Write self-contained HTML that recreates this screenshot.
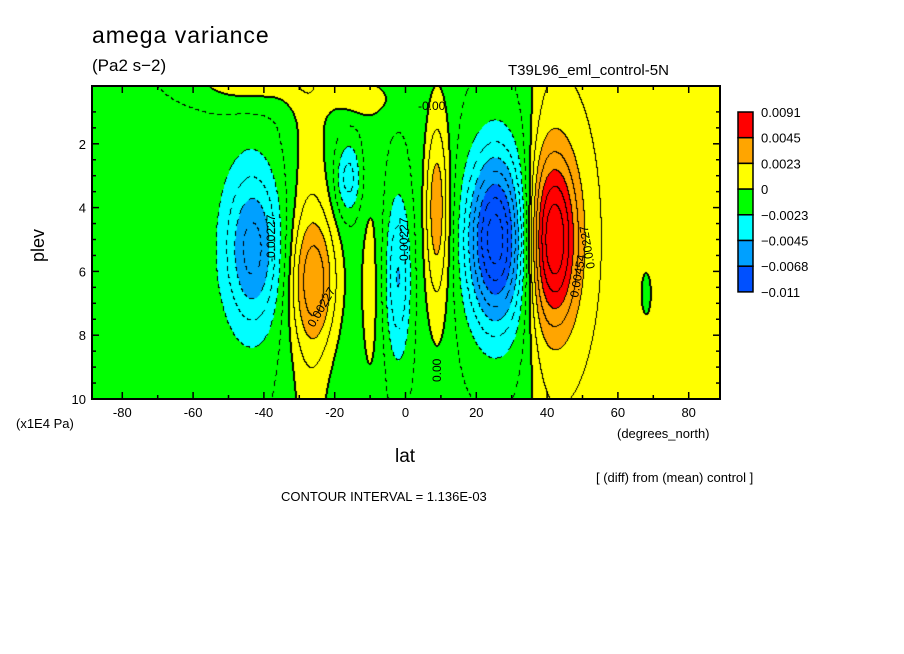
<!DOCTYPE html>
<html><head><meta charset="utf-8"><style>
body{margin:0;background:#fff;width:904px;height:654px;overflow:hidden;position:relative;font-family:"Liberation Sans",sans-serif}
.t{position:absolute;color:#000;white-space:nowrap}
</style></head><body>
<div class="t" style="left:92px;top:22px;font-size:23px;letter-spacing:1px">amega variance</div>
<div class="t" style="left:92px;top:56px;font-size:17px">(Pa2 s−2)</div>
<div class="t" style="left:508px;top:62px;font-size:15px">T39L96_eml_control-5N</div>
<div class="t" style="left:22px;top:235px;font-size:18px;transform:rotate(-90deg)">plev</div>
<div class="t" style="left:16px;top:416px;font-size:13px">(x1E4 Pa)</div>
<div class="t" style="left:617px;top:426px;font-size:13px">(degrees_north)</div>
<div class="t" style="left:395px;top:446px;font-size:19px">lat</div>
<div class="t" style="left:596px;top:470px;font-size:13px">[ (diff) from (mean) control ]</div>
<div class="t" style="left:281px;top:489px;font-size:13px">CONTOUR INTERVAL = 1.136E-03</div>
<canvas id="cv" width="628" height="313" style="position:absolute;left:92px;top:86px"></canvas>
<svg id="sv" width="904" height="654" style="position:absolute;left:0;top:0"></svg>
<script>
const blobLat=[-70,-43,-25.5,-27,-16,-10,-2,9,9,-12,25.5,42,-45,68];
const blobPlev=[4,5.3,6.3,5,3.1,6.5,6.2,4.0,4.5,0.6,5,5.0,0,6.7];
const blobAmp=[-0.6,-4.9,4.0,1.5,-3.0,1.4,-3.6,2.6,1.6,1.7,-8.8,7.0,2.0,-1.8];
const blobSigLat=[22,5.5,4.8,4.5,2.6,2.5,2.5,2.2,3.2,6,5.6,4.8,14,1.2];
const blobSigPlev=[8,1.75,1.5,20,0.8,3,1.8,1.8,3.5,0.4,1.9,1.9,0.6,0.6];
const xTicks=[-80,-60,-40,-20,0,20,40,60,80];
const yTicks=[2,4,6,8,10];
const cbLabels=["0.0091","0.0045","0.0023","0","−0.0023","−0.0045","−0.0068","−0.011"];
const cbColors=["#ff0000","#ffa500","#ffff00","#00ff00","#00ffff","#00a0ff","#0050ff"];
const CI=1.136;
function xOf(lat){return 405.5+lat*3.54;}
function yOf(p){return 399-(10-p)*31.9;}
function field(lat,p){
  let v=-1+2/(1+Math.exp(-(lat-36)/1.5));
  for(let i=0;i<blobLat.length;i++){
    const dx=(lat-blobLat[i])/blobSigLat[i],dy=(p-blobPlev[i])/blobSigPlev[i];
    v+=blobAmp[i]*Math.exp(-0.5*(dx*dx+dy*dy));
  }
  return v;
}
function fillIdx(v){
  if(v>4.54)return 0;if(v>2.27)return 1;if(v>0)return 2;if(v>-2.27)return 3;
  if(v>-4.54)return 4;if(v>-6.8)return 5;return 6;
}
const W=628,H=313,cv=document.getElementById('cv'),ctx=cv.getContext('2d');
const img=ctx.createImageData(W,H);
const vals=new Float32Array(W*H);
for(let j=0;j<H;j++)for(let i=0;i<W;i++){
  const lat=(92+i+0.5-405.5)/3.54,p=10-(399-(86+j+0.5))/31.9;
  vals[j*W+i]=field(lat,p);
}
function rgb(h){return [parseInt(h.substr(1,2),16),parseInt(h.substr(3,2),16),parseInt(h.substr(5,2),16)];}
const cols=cbColors.map(rgb);
for(let j=0;j<H;j++)for(let i=0;i<W;i++){
  const v=vals[j*W+i],k=Math.floor(v/CI);
  let c=cols[fillIdx(v)],line=false;
  const nb=[[1,0],[0,1],[-1,0],[0,-1]];
  for(const [a,b] of nb){const ii=i+a,jj=j+b;if(ii<0||jj<0||ii>=W||jj>=H)continue;
    const k2=Math.floor(vals[jj*W+ii]/CI);
    if(k2!==k){const lev=Math.max(k,k2)*CI;
      if(Math.abs(lev)<1e-6){line=true;}
      else if(a>=0&&b>=0){ if(lev>0||((i+j)%9)<5) line=true; }
    }}
  if(line)c=[0,0,0];
  const o=(j*W+i)*4;img.data[o]=c[0];img.data[o+1]=c[1];img.data[o+2]=c[2];img.data[o+3]=255;
}
ctx.putImageData(img,0,0);
const NS='http://www.w3.org/2000/svg',sv=document.getElementById('sv');
function el(t,a){const e=document.createElementNS(NS,t);for(const k in a)e.setAttribute(k,a[k]);sv.appendChild(e);return e;}
const fr=el('rect',{x:92,y:86,width:628,height:313,fill:'none',stroke:'#000','stroke-width':2});


for(let lat=-80;lat<=80;lat+=10){const x=xOf(lat);const L=lat%20===0?7:4;
  el('line',{x1:x,y1:399,x2:x,y2:399-L,stroke:'#000','stroke-width':1.5});
  el('line',{x1:x,y1:86,x2:x,y2:86+L,stroke:'#000','stroke-width':1.5});}
for(let p=1;p<=10;p+=0.5){const y=yOf(p);const L=p%2===0?7:4;
  el('line',{x1:92,y1:y,x2:92+L,y2:y,stroke:'#000','stroke-width':1.5});
  el('line',{x1:720,y1:y,x2:720-L,y2:y,stroke:'#000','stroke-width':1.5});}
xTicks.forEach(v=>{const t=el('text',{x:xOf(v),y:417,'text-anchor':'middle','font-size':13,'font-family':'Liberation Sans'});t.textContent=v;
  
  });
yTicks.forEach(v=>{const t=el('text',{x:86,y:yOf(v)+5,'text-anchor':'end','font-size':13,'font-family':'Liberation Sans'});t.textContent=v;
  
  });
cbColors.forEach((c,i)=>{const r=el('rect',{x:738,y:112+i*25.7,width:15,height:25.7,fill:c,stroke:'#000','stroke-width':1.5});
  
  });
cbLabels.forEach((s,i)=>{const t=el('text',{x:761,y:117+i*25.7,'font-size':13,'font-family':'Liberation Sans'});t.textContent=s;
  
  });
const labs=[["-0.00",418,110,0],["0.00",441,382,-90],["-0.00227",275,262,-90],["0.00227",314,328,-60],["0.00454",578,298,-80],["0.00227",595,268,-100],["-0.00227",408,265,-90]];
labs.forEach(l=>{const t=el('text',{x:l[1],y:l[2],'font-size':12,'font-family':'Liberation Sans',transform:`rotate(${l[3]} ${l[1]} ${l[2]})`});t.textContent=l[0];
  
  });
</script>
</body></html>
